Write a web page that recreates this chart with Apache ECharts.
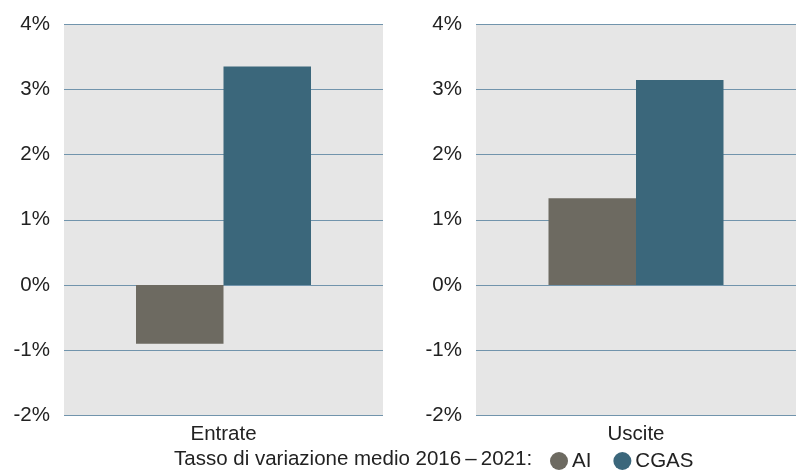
<!DOCTYPE html>
<html><head><meta charset="utf-8">
<script src="https://cdn.jsdelivr.net/npm/echarts@6/dist/echarts.min.js"></script>
<style>html,body{margin:0;padding:0;background:#fff}#c{width:796px;height:470px}</style>
</head><body><div id="c"></div>
<script>
const panels = ['Entrate', 'Uscite'];
const seriesNames = ['AI', 'CGAS'];
const aiValues = [-0.90, 1.33];
const cgasValues = [3.35, 3.14];
const yTicks = [-2, -1, 0, 1, 2, 3, 4];
const legendTitle = 'Tasso di variazione medio 2016\u2009\u2013\u20092021:';

const colors = {AI: '#6d6a61', CGAS: '#3b677b'};
const font = 'Liberation Sans, Arial, sans-serif';
const fs = 20.5;
const chart = echarts.init(document.getElementById('c'));

const grids = [
  {left: 64, right: 413, top: 24, bottom: 54.5},
  {left: 476, right: 0, top: 24, bottom: 54.5}
];
const xAxes = panels.map((p, i) => ({
  type: 'category', gridIndex: i, data: [p],
  axisLine: {show: false}, axisTick: {show: false},
  axisLabel: {fontSize: fs, color: '#222', fontFamily: font, margin: 8}
}));
const yAxes = panels.map((p, i) => ({
  type: 'value', gridIndex: i,
  min: yTicks[0], max: yTicks[yTicks.length - 1], interval: 1,
  axisLine: {show: false}, axisTick: {show: false},
  axisLabel: {fontSize: fs, color: '#222', fontFamily: font, margin: 14, formatter: '{value}%'},
  splitLine: {show: true, lineStyle: {color: '#7194ac', width: 1}}
}));
const series = [];
panels.forEach((p, i) => {
  series.push({name: 'AI', type: 'bar', xAxisIndex: i, yAxisIndex: i, data: [aiValues[i]],
    barWidth: 87.5, barGap: '0%', itemStyle: {color: colors.AI}});
  series.push({name: 'CGAS', type: 'bar', xAxisIndex: i, yAxisIndex: i, data: [cgasValues[i]],
    barWidth: 87.5, barGap: '0%', itemStyle: {color: colors.CGAS}});
});

chart.setOption({
  animation: false,
  backgroundColor: '#fff',
  grid: grids.map(g => Object.assign({show: true, backgroundColor: '#e6e6e6', borderWidth: 0}, g)),
  xAxis: xAxes,
  yAxis: yAxes,
  series: series,
  legend: {
    data: seriesNames.map(n => ({name: n, icon: 'circle'})),
    left: 550, top: 450.5, padding: 0, itemWidth: 18, itemHeight: 18, itemGap: 22,
    textStyle: {fontSize: fs, color: '#222', fontFamily: font, padding: [0, 0, 0, -1]}
  },
  graphic: [{
    type: 'text', left: 174, top: 448.5,
    style: {text: legendTitle, fontSize: fs, fill: '#222', fontFamily: font}
  }]
});
</script></body></html>
